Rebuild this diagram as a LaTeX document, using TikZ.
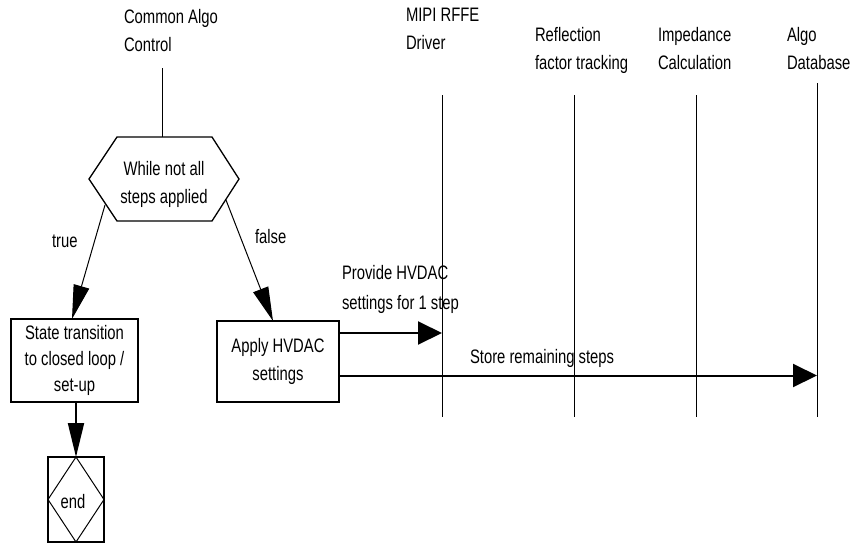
\documentclass[tikz,border=0pt]{standalone}
\usepackage{fontspec}
\setmainfont{Liberation Sans}[FakeStretch=0.76]
\usetikzlibrary{arrows.meta,calc}
\begin{document}
\begin{tikzpicture}[x=1pt,y=-1pt,
  every node/.style={inner sep=0pt,outer sep=0pt,font=\fontsize{19.5}{28}\selectfont},
  lbl/.style={anchor=north west,align=left},
  boxnode/.style={draw,line width=2pt,align=center},
  lifeline/.style={line width=1pt},
  harrow/.style={line width=2pt,-{Triangle[length=24pt,width=23pt]}},
  darrow/.style={line width=1pt,-{Triangle[length=34pt,width=16pt]}},
  varrow/.style={line width=2pt,-{Triangle[length=34pt,width=16pt]}},
  hexline/.style={line width=1.3pt,line join=miter}]
\useasboundingbox (0,0) rectangle (853,544);
\fill[white] (0,0) rectangle (853,544);

% header labels
\node[lbl] (cal) at (124,9) {Common Algo\\Control};
\node[lbl] (mipi) at (406,8) {MIPI RFFE\\Driver};
\node[lbl] (refl) at (535,27) {Reflection\\factor tracking};
\node[lbl] (imp) at (658,27) {Impedance\\Calculation};
\node[lbl] (algo) at (787,27) {Algo\\Database};

% lifeline coordinates
\coordinate (calT) at (162,68);
\coordinate (mipiT) at (442,95);
\coordinate (mipiB) at (442,417);
\coordinate (reflT) at (574,95);
\coordinate (reflB) at (574,417);
\coordinate (impT) at (696,95);
\coordinate (impB) at (696,417);
\coordinate (algoT) at (817,83);
\coordinate (algoB) at (817,417);

% hexagon decision
\node[align=center] (hex) at (164,184) {While not all\\steps applied};
\draw[hexline] ($(hex)+(-75,-5)$) -- ($(hex)+(-47,-47)$) -- ($(hex)+(48,-47)$)
  -- ($(hex)+(75,-5)$) -- ($(hex)+(48,37)$) -- ($(hex)+(-47,37)$) -- cycle;
\coordinate (hexTop) at ($(hex)+(-2,-47)$);
\coordinate (hexL) at ($(hex)+(-59,21)$);
\coordinate (hexR) at ($(hex)+(62,16)$);

% boxes
\node[boxnode,minimum width=127pt,minimum height=83pt,font=\fontsize{19.5}{26}\selectfont]
  (state) at (74.5,360.5) {State transition\\to closed loop /\\set-up};
\node[boxnode,minimum width=122pt,minimum height=81pt] (apply) at (278,361.5) {Apply HVDAC\\settings};
\node[draw,line width=2pt,minimum width=56pt,minimum height=85pt] (endb) at (76,499.5) {};
\draw[line width=1pt] (endb.north) -- (endb.east) -- (endb.south) -- (endb.west) -- cycle;
\node (endt) at (73,502) {end};

% lifelines
\draw[lifeline] (calT) -- (calT |- hexTop);
\draw[lifeline] (mipiT) -- (mipiB);
\draw[lifeline] (reflT) -- (reflB);
\draw[lifeline] (impT) -- (impB);
\draw[lifeline] (algoT) -- (algoB);

% decision arrows
\draw[darrow] (hexL) -- ($(state.north)+(-2.5,0)$);
\draw[darrow] (hexR) -- ($(apply.north)+(-5,0)$);
\node[anchor=base west] (truel) at (52,247) {true};
\node[anchor=base west] (falsel) at (255,243) {false};

% state -> end
\draw[varrow] (endb.north |- state.south) -- (endb.north);

% messages
\coordinate (m1) at ($(apply.east)+(0,-28.5)$);
\coordinate (m2) at ($(apply.east)+(0,14)$);
\draw[harrow] (m1) -- (m1 -| mipiT);
\draw[harrow] (m2) -- (m2 -| algoT);
\node[lbl,font=\fontsize{19.5}{30}\selectfont] (provl) at (342,265) {Provide HVDAC\\settings for 1 step};
\node[anchor=base west] (storel) at (470,363) {Store remaining steps};
\end{tikzpicture}
\end{document}
